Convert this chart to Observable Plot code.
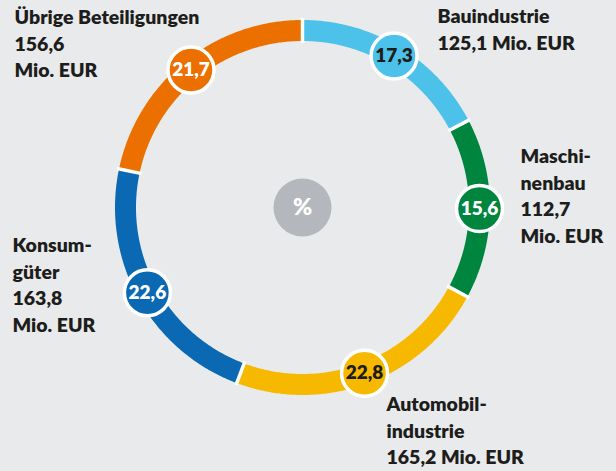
<!DOCTYPE html>
<html><head><meta charset="utf-8">
<script src="https://cdn.jsdelivr.net/npm/d3@7"></script>
<script src="https://cdn.jsdelivr.net/npm/@observablehq/plot@0.6"></script>
<style>
html,body{margin:0;padding:0;background:#e9eaec;}
#chart svg{display:block;}
</style></head><body><div id="chart"></div>
<script>
// ---- data ----
const sectors = ["Bauindustrie","Maschinenbau","Automobilindustrie","Konsumgüter","Übrige Beteiligungen"];
const shares  = [17.3, 15.6, 22.8, 22.6, 21.7];          // %
const amounts = [125.1, 112.7, 165.2, 163.8, 156.6];     // Mio. EUR
const nameLines = [["Bauindustrie"],["Maschi-","nenbau"],["Automobil-","industrie"],["Konsum-","güter"],["Übrige Beteiligungen"]];
const centerLabel = "%";

// ---- styles / layout ----
const colors = ["#4cc1ea","#00853f","#f7b800","#0b69b3","#ec7000"];
const pctInk = ["#1d1d1b","#ffffff","#1d1d1b","#ffffff","#ffffff"];
const unitSameLine = [true,false,true,false,false];
const labelAnchor = [[437,25],[520,165],[386,413],[12,254],[14,26]]; // left x, first baseline y (px)
const W=616, H=471, CX=302, CY=207, R_MID=177, RING=21, DOT_R=23, FS=19.5, PFS=19;
const FONT = "Lato, 'Open Sans', sans-serif";

const fmt = v => v.toFixed(1).replace(".", ",");
let cum = 0;
const segs = sectors.map((s,i)=>{
  const a0 = cum/100*2*Math.PI; cum += shares[i]; const a1 = cum/100*2*Math.PI;
  return {sector:s, i, a0, a1, am:(a0+a1)/2, share:shares[i], amount:amounts[i]};
});
const arcPts = segs.flatMap(d=>{
  const n = Math.max(2, Math.ceil((d.a1-d.a0)/(Math.PI/360)));
  return d3.range(n+1).map(k=>{const a=d.a0+(d.a1-d.a0)*k/n; return {sector:d.sector, x:R_MID*Math.sin(a), y:-R_MID*Math.cos(a)};});
});
const rIn = R_MID-RING/2-2, rOut = R_MID+RING/2+2;
const labels = segs.map(d=>{
  const amt = fmt(d.amount);
  const lines = [...nameLines[d.i], ...(unitSameLine[d.i] ? [amt+" Mio. EUR"] : [amt, "Mio. EUR"])];
  return {text: lines.join("\n"), x: labelAnchor[d.i][0]-CX, y: labelAnchor[d.i][1]-CY - 21.5};
});

const chart = Plot.plot({
  width: W, height: H,
  margin: 0,
  style: {background:"#e9eaec", fontFamily: FONT},
  x: {domain:[-CX, W-CX], range:[0,W], axis:null},
  y: {domain:[-CY, H-CY], range:[0,H], axis:null},
  color: {domain: sectors, range: colors},
  marks: [
    Plot.line(arcPts, {x:"x", y:"y", z:"sector", stroke:"sector", strokeWidth:RING, strokeLinecap:"butt", curve:"linear"}),
    Plot.link(segs, {x1:d=>rIn*Math.sin(d.a0), y1:d=>-rIn*Math.cos(d.a0), x2:d=>rOut*Math.sin(d.a0), y2:d=>-rOut*Math.cos(d.a0), stroke:"#ffffff", strokeWidth:3.5}),
    Plot.dot(segs, {x:d=>R_MID*Math.sin(d.am), y:d=>-R_MID*Math.cos(d.am), r:DOT_R, fill:"sector", stroke:"#ffffff", strokeWidth:3.5}),
    Plot.text(segs, {x:d=>R_MID*Math.sin(d.am), y:d=>-R_MID*Math.cos(d.am), text:d=>fmt(d.share), fill:d=>pctInk[d.i], fontSize:PFS, fontWeight:800, fontFamily:FONT}),
    Plot.dot([0], {x:0, y:0, r:29, fill:"#b4b7bb"}),
    Plot.text([centerLabel], {x:0, y:0, text:d=>d, fill:"#ffffff", fontSize:23, fontWeight:800, fontFamily:FONT}),
    Plot.text(labels, {x:"x", y:"y", text:"text", textAnchor:"start", lineAnchor:"top", lineHeight:1.37, fill:"#1d1d1b", fontSize:FS, fontWeight:800, fontFamily:FONT})
  ]
});
document.getElementById("chart").appendChild(chart);
</script>
</body></html>
